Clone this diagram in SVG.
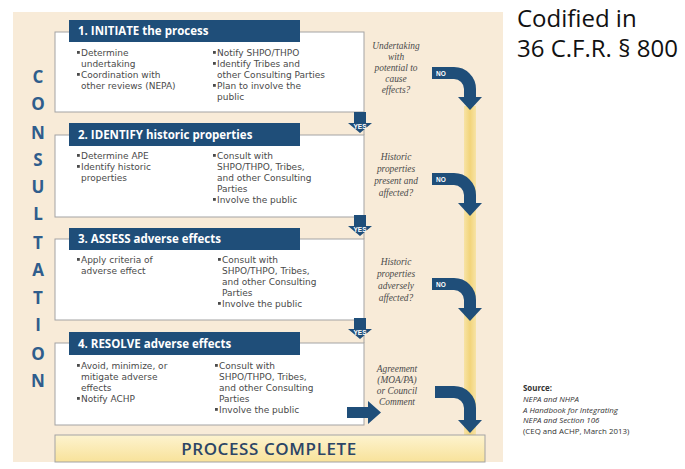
<svg xmlns="http://www.w3.org/2000/svg" width="685" height="469" viewBox="0 0 685 469">
  <defs>
    <style>
      .panel{fill:#f8ebd8}
      .box{fill:#fff;stroke:#a3a3a3;stroke-width:1}
      .hdr{fill:#1f4e79}
      .hdr-t{font-family:"Open Sans",sans-serif;font-weight:700;font-size:11.5px;fill:#fff}
      .item{font-family:"DejaVu Sans",sans-serif;font-size:9px;fill:#4a4a4a}
      .bul{fill:#4a4a4a}
      .q{font-family:"Liberation Serif",serif;font-style:italic;font-size:9.4px;fill:#4a4a4a;text-anchor:middle}
      .cons{font-family:"Open Sans",sans-serif;font-weight:700;font-size:17px;fill:#2f5d8c;text-anchor:middle}
      .blk{fill:#1f4e79}
      .bend{fill:none;stroke:#1f4e79;stroke-width:12}
      .lbl{font-family:"Liberation Sans",sans-serif;font-weight:700;font-size:6.5px;fill:#fff}
      .link{stroke:#a3a3a3;stroke-width:1;fill:none}
      .codified{font-family:"Open Sans",sans-serif;font-size:24px;fill:#111}
      .src{font-family:"Open Sans",sans-serif;font-size:7.9px;fill:#333}
    </style>
    <linearGradient id="rail" x1="0" y1="0" x2="1" y2="0">
      <stop offset="0" stop-color="#f7e3a6"/>
      <stop offset="0.5" stop-color="#f2d47a"/>
      <stop offset="1" stop-color="#f7e3a6"/>
    </linearGradient>
    <linearGradient id="done" x1="0" y1="0" x2="0" y2="1">
      <stop offset="0" stop-color="#fdf3cf"/>
      <stop offset="1" stop-color="#f8e29a"/>
    </linearGradient>
    <!-- downward block arrow labelled YES -->
    <g id="yes">
      <polygon class="blk" points="-6,0 6,0 6,11 12,11 0,21 -12,11 -6,11"/>
      <text class="lbl" x="0" y="16.5" text-anchor="middle" font-size="5.5">YES</text>
    </g>
    <!-- bent arrow: horizontal start, turning down -->
    <g id="bend">
      <path class="bend" d="M0,0 H22 A16,16 0 0 1 38,16 V25"/>
      <polygon class="blk" points="26,24 50,24 38,37"/>
    </g>
  </defs>

  <!-- background panel -->
  <rect class="panel" x="13" y="12" width="490" height="450"/>

  <!-- vertical rail for the NO path -->
  <rect x="464" y="106" width="12" height="330" fill="url(#rail)"/>

  <!-- CONSULTATION -->
  <g id="consultation" class="cons">
    <text x="38" y="83">C</text>
    <text x="38" y="110">O</text>
    <text x="38" y="139">N</text>
    <text x="38" y="166">S</text>
    <text x="38" y="193">U</text>
    <text x="38" y="220">L</text>
    <text x="38" y="249">T</text>
    <text x="38" y="276">A</text>
    <text x="38" y="304">T</text>
    <text x="38" y="331">I</text>
    <text x="38" y="360">O</text>
    <text x="38" y="387">N</text>
  </g>

  <!-- step 1 -->
  <g id="step1">
    <rect class="box" x="55" y="32" width="309" height="80"/>
    <rect class="hdr" x="69" y="20" width="231" height="22"/>
    <text class="hdr-t" x="78" y="35">1. INITIATE the process</text>
    <g class="item">
      <rect class="bul" x="77" y="51" width="2.8" height="2.8"/>
      <text x="81" y="56">Determine</text>
      <text x="81" y="67">undertaking</text>
      <rect class="bul" x="77" y="73" width="2.8" height="2.8"/>
      <text x="81" y="78">Coordination with</text>
      <text x="81" y="89">other reviews (NEPA)</text>
      <rect class="bul" x="213" y="51" width="2.8" height="2.8"/>
      <text x="217" y="56">Notify SHPO/THPO</text>
      <rect class="bul" x="213" y="62" width="2.8" height="2.8"/>
      <text x="217" y="67">Identify Tribes and</text>
      <text x="217" y="78">other Consulting Parties</text>
      <rect class="bul" x="213" y="84" width="2.8" height="2.8"/>
      <text x="217" y="89">Plan to involve the</text>
      <text x="217" y="100">public</text>
    </g>
  </g>

  <!-- step 2 -->
  <g id="step2">
    <rect class="box" x="55" y="135" width="309" height="82"/>
    <rect class="hdr" x="69" y="123" width="231" height="23"/>
    <text class="hdr-t" x="78" y="138.5">2. IDENTIFY historic properties</text>
    <g class="item">
      <rect class="bul" x="77" y="154" width="2.8" height="2.8"/>
      <text x="81" y="159">Determine APE</text>
      <rect class="bul" x="77" y="165" width="2.8" height="2.8"/>
      <text x="81" y="170">Identify historic</text>
      <text x="81" y="181">properties</text>
      <rect class="bul" x="213" y="154" width="2.8" height="2.8"/>
      <text x="217" y="159">Consult with</text>
      <text x="217" y="170">SHPO/THPO, Tribes,</text>
      <text x="217" y="181">and other Consulting</text>
      <text x="217" y="192">Parties</text>
      <rect class="bul" x="213" y="198" width="2.8" height="2.8"/>
      <text x="217" y="203">Involve the public</text>
    </g>
  </g>

  <!-- step 3 -->
  <g id="step3">
    <rect class="box" x="55" y="239" width="309" height="81"/>
    <rect class="hdr" x="69" y="228" width="231" height="22"/>
    <text class="hdr-t" x="78" y="243">3. ASSESS adverse effects</text>
    <g class="item">
      <rect class="bul" x="77" y="258" width="2.8" height="2.8"/>
      <text x="81" y="263">Apply criteria of</text>
      <text x="81" y="274">adverse effect</text>
      <rect class="bul" x="218" y="258" width="2.8" height="2.8"/>
      <text x="222" y="263">Consult with</text>
      <text x="222" y="274">SHPO/THPO, Tribes,</text>
      <text x="222" y="285">and other Consulting</text>
      <text x="222" y="296">Parties</text>
      <rect class="bul" x="218" y="302" width="2.8" height="2.8"/>
      <text x="222" y="307">Involve the public</text>
    </g>
  </g>

  <!-- step 4 -->
  <g id="step4">
    <rect class="box" x="55" y="343" width="309" height="82"/>
    <rect class="hdr" x="69" y="332" width="231" height="23"/>
    <text class="hdr-t" x="78" y="347.5">4. RESOLVE adverse effects</text>
    <g class="item">
      <rect class="bul" x="77" y="364" width="2.8" height="2.8"/>
      <text x="81" y="369">Avoid, minimize, or</text>
      <text x="81" y="380">mitigate adverse</text>
      <text x="81" y="391">effects</text>
      <rect class="bul" x="77" y="397" width="2.8" height="2.8"/>
      <text x="81" y="402">Notify ACHP</text>
      <rect class="bul" x="215" y="364" width="2.8" height="2.8"/>
      <text x="219" y="369">Consult with</text>
      <text x="219" y="380">SHPO/THPO, Tribes,</text>
      <text x="219" y="391">and other Consulting</text>
      <text x="219" y="402">Parties</text>
      <rect class="bul" x="215" y="408" width="2.8" height="2.8"/>
      <text x="219" y="413">Involve the public</text>
    </g>
  </g>

  <!-- final step -->
  <g id="complete">
    <rect x="55" y="435" width="430" height="27" fill="url(#done)" stroke="#a3a3a3" stroke-width="1"/>
    <text x="269" y="455" text-anchor="middle" font-family="'Open Sans',sans-serif" font-weight="600" font-size="17" letter-spacing="0.6" fill="#2c4566">PROCESS COMPLETE</text>
  </g>

  <!-- decision questions -->
  <g id="questions" class="q">
    <text x="396" y="49">Undertaking</text>
    <text x="396" y="60">with</text>
    <text x="396" y="71">potential to</text>
    <text x="396" y="82">cause</text>
    <text x="396" y="93">effects?</text>
    <text x="396" y="160">Historic</text>
    <text x="396" y="172">properties</text>
    <text x="396" y="184">present and</text>
    <text x="396" y="196">affected?</text>
    <text x="396" y="265">Historic</text>
    <text x="396" y="277">properties</text>
    <text x="396" y="289">adversely</text>
    <text x="396" y="301">affected?</text>
    <text x="397" y="372">Agreement</text>
    <text x="397" y="383">(MOA/PA)</text>
    <text x="397" y="394">or Council</text>
    <text x="397" y="405">Comment</text>
  </g>

  <!-- connectors -->
  <g id="connectors">
    <path class="link" d="M364,112 V135 M364,217 V239 M364,320 V343"/>
    <use href="#yes" x="360" y="112"/>
    <use href="#yes" x="360" y="215"/>
    <use href="#yes" x="360" y="318"/>
    <polygon class="blk" points="347,407 368,407 368,401 381,412.5 368,424 368,418 347,418"/>

    <use href="#bend" x="432" y="73"/>
    <text class="lbl" x="436" y="75.5">NO</text>
    <use href="#bend" x="432" y="179"/>
    <text class="lbl" x="436" y="181.5">NO</text>
    <use href="#bend" x="432" y="284"/>
    <text class="lbl" x="436" y="286.5">NO</text>
    <path class="bend" d="M435,392 H454 A16,16 0 0 1 470,408 V421"/>
    <polygon class="blk" points="458,420 482,420 470,433"/>
  </g>

  <!-- citation -->
  <text class="codified" x="517" y="27">Codified in</text>
  <text class="codified" x="517" y="57">36 C.F.R. § 800</text>

  <g id="source" class="src">
    <text x="523" y="391" font-weight="700">Source:</text>
    <text x="523" y="402" font-style="italic">NEPA and NHPA</text>
    <text x="523" y="412.5" font-style="italic">A Handbook for Integrating</text>
    <text x="523" y="423" font-style="italic">NEPA and Section 106</text>
    <text x="523" y="433.5">(CEQ and ACHP, March 2013)</text>
  </g>
</svg>
